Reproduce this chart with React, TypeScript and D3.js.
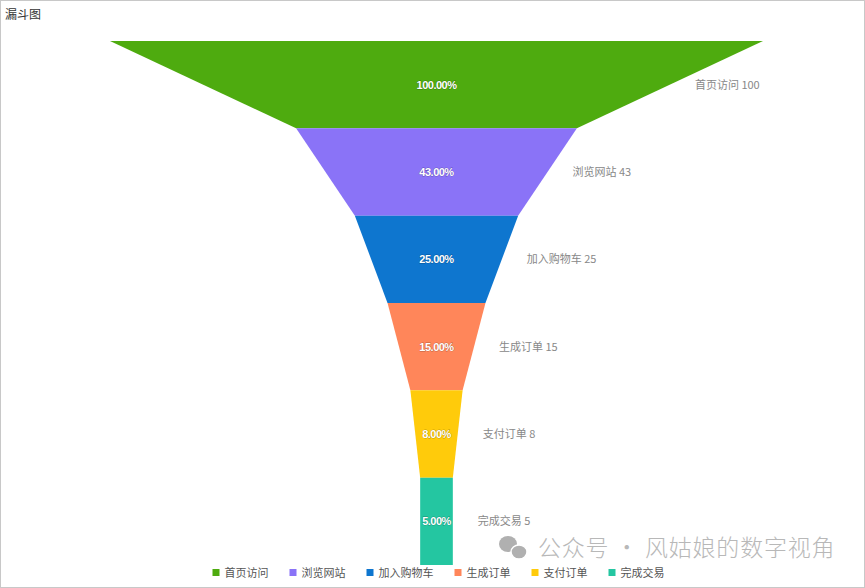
import React, { useEffect, useRef } from 'react';
import * as d3 from 'd3';

const stages = ['首页访问', '浏览网站', '加入购物车', '生成订单', '支付订单', '完成交易'];
const values = [100, 43, 25, 15, 8, 5];
const colors = ['#4eab0f', '#8a73f7', '#0e76cf', '#ff865a', '#ffcb0b', '#24c6a1'];

const W = 865;
const H = 588;

const App: React.FC = () => {
  const svgRef = useRef<SVGSVGElement>(null);

  useEffect(() => {
    if (!svgRef.current) return;
    const svg = d3.select(svgRef.current);
    svg.selectAll('*').remove();

    const font = '"Microsoft YaHei", "Noto Sans CJK SC", "Noto Sans", sans-serif';
    const cx = 436.5;

    // frame
    svg.append('rect')
      .attr('x', 0.5).attr('y', 0.5)
      .attr('width', W - 1).attr('height', H - 1)
      .attr('fill', '#fff')
      .attr('stroke', '#c8c8c8');

    svg.append('text')
      .attr('x', 5).attr('y', 19)
      .attr('font-size', 12)
      .attr('font-family', font)
      .attr('fill', '#333')
      .text('漏斗图');

    const y = d3.scaleBand<string>().domain(stages).range([41, 565]).padding(0);
    const w = d3.scaleLinear().domain([0, 100]).range([0, 653]);

    const groups = svg.selectAll('.stage')
      .data(stages)
      .enter()
      .append('g')
      .attr('class', 'stage');

    groups.append('path')
      .attr('fill', (d, i) => colors[i])
      .attr('d', (d, i) => {
        const top = w(values[i]);
        const bot = w(values[i + 1] ?? values[i]);
        const y0 = y(d) || 0;
        const y1 = y0 + y.bandwidth();
        return `M${cx - top / 2},${y0}L${cx + top / 2},${y0}L${cx + bot / 2},${y1}L${cx - bot / 2},${y1}Z`;
      });

    // percent labels
    groups.append('text')
      .attr('x', cx)
      .attr('y', d => (y(d) || 0) + y.bandwidth() / 2 + 4)
      .attr('text-anchor', 'middle')
      .attr('font-size', 11)
      .attr('font-weight', 'bold')
      .attr('font-family', '"Liberation Sans Narrow", "Liberation Sans", Arial, sans-serif')
      .attr('letter-spacing', -0.5)
      .attr('fill', '#fff')
      .attr('stroke', 'rgba(0,0,0,0.3)')
      .attr('stroke-width', 0.8)
      .attr('paint-order', 'stroke')
      .text((d, i) => `${((values[i] / values[0]) * 100).toFixed(2)}%`);

    // side labels
    groups.append('text')
      .attr('x', (d, i) => cx + (w(values[i]) + w(values[i + 1] ?? values[i])) / 4 + 25)
      .attr('y', d => (y(d) || 0) + y.bandwidth() / 2 + 4)
      .attr('font-size', 11)
      .attr('font-family', font)
      .attr('fill', '#888')
      .text((d, i) => `${d} ${values[i]}`);

    // watermark
    svg.append('text')
      .attr('x', 538).attr('y', 556)
      .attr('font-size', 23)
      .attr('font-family', font)
      .attr('font-weight', 300)
      .attr('letter-spacing', 0.8)
      .attr('fill', '#b8b8b8')
      .text('公众号 · 风姑娘的数字视角');
    const icon = svg.append('g').attr('fill', '#b0b0b0');
    icon.append('ellipse').attr('cx', 508).attr('cy', 544).attr('rx', 9).attr('ry', 8);
    icon.append('ellipse').attr('cx', 519).attr('cy', 552).attr('rx', 8).attr('ry', 7)
      .attr('stroke', '#fff').attr('stroke-width', 1.5);

    // legend
    const charW = 11;
    const itemW = stages.map(s => 12 + s.length * charW + 21);
    const total = d3.sum(itemW) - 21;
    let lx = cx - total / 2 + 2;
    const legend = svg.append('g');
    stages.forEach((s, i) => {
      legend.append('rect')
        .attr('x', lx).attr('y', 569)
        .attr('width', 7).attr('height', 7)
        .attr('fill', colors[i]);
      legend.append('text')
        .attr('x', lx + 12).attr('y', 577)
        .attr('font-size', 11)
        .attr('font-family', font)
        .attr('fill', '#555')
        .text(s);
      lx += itemW[i];
    });
  }, []);

  return (
    <div style={{ position: 'absolute', left: 0, top: 0, width: W, height: H }}>
      <svg ref={svgRef} width={W} height={H} style={{ display: 'block' }} />
    </div>
  );
};

export default App;
